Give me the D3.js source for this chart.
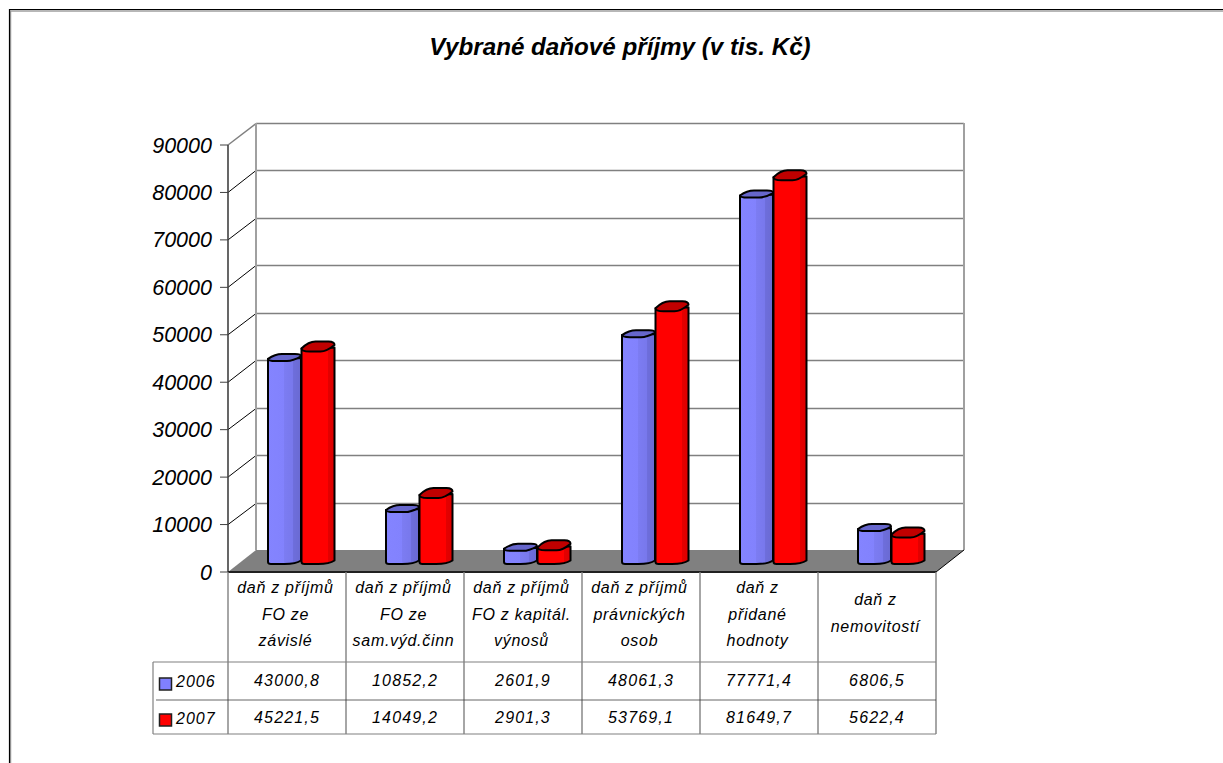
<!DOCTYPE html>
<html><head><meta charset="utf-8">
<script src="https://cdn.jsdelivr.net/npm/d3@7"></script>
<style>html,body{margin:0;padding:0;background:#fff}svg{display:block}
text{font-family:"Liberation Sans",Arial,sans-serif;font-style:italic;fill:#000}</style>
</head><body><svg id="c" width="1223" height="763"></svg>
<script>
const title = "Vybrané daňové příjmy (v tis. Kč)";
const categories = [
 ["daň z příjmů","FO ze","závislé"],
 ["daň z příjmů","FO ze","sam.výd.činn"],
 ["daň z příjmů","FO z kapitál.","výnosů"],
 ["daň z příjmů","právnických","osob"],
 ["daň z","přidané","hodnoty"],
 ["daň z","nemovitostí"]];
const seriesNames = ["2006","2007"];
const values2006 = [43000.8,10852.2,2601.9,48061.3,77771.4,6806.5];
const values2007 = [45221.5,14049.2,2901.3,53769.1,81649.7,5622.4];
const yTicks = d3.range(0,90001,10000);

const svg = d3.select("#c");
const W=1223,H=763;
const x0=228,x1=936,yB=572,yT=145,dx=28,dy=-22;
const y = d3.scaleLinear().domain([0,90000]).range([yB,yT]);
const yBar = d3.scaleLinear().domain([0,90000]).range([561,138]);
const barBase=564;
const x = d3.scaleBand().domain(d3.range(categories.length)).range([x0,x1]);
const GREY="#808080";

const defs=svg.append("defs");
function grad(id,stops){const g=defs.append("linearGradient").attr("id",id);
 stops.forEach(s=>{g.append("stop").attr("offset",s[0]).attr("stop-color",s[1]);});}
grad("gb",[[0,"#8484ff"],[.5,"#8282fd"],[.5,"#7c7cf2"],[.76,"#7878ec"],[.76,"#6e6edc"],[1,"#6a6ad2"]]);
grad("gr",[[0,"#ff0000"],[.8,"#ff0000"],[.8,"#e40000"],[1,"#dc0000"]]);

// outer frame: top and left edges only
svg.append("path").attr("d",`M10.5,${H}V11H${W}`).attr("fill","none").attr("stroke","#a0a0a0").attr("stroke-width",1.5);
svg.append("path").attr("d",`M9.5,${H}V9.5H${W}`).attr("fill","none").attr("stroke","#000").attr("stroke-width",1.2);

svg.append("text").attr("x",620).attr("y",55).attr("text-anchor","middle")
 .attr("font-size",24.2).attr("font-weight","bold").text(title);

const wall=svg.append("g");
wall.append("path").attr("d",`M${x0},${yB}L${x0+dx},${yB+dy}H${x1+dx}L${x1},${yB}Z`).attr("fill","#808080");
yTicks.forEach(t=>{
  const yy=Math.round(y(t)+dy)+.5;
  if(t>0){
    wall.append("line").attr("x1",x0+dx).attr("x2",x1+dx).attr("y1",yy).attr("y2",yy).attr("stroke",GREY).attr("stroke-width",1.6);
    wall.append("line").attr("x1",x0).attr("y1",y(t)).attr("x2",x0+dx).attr("y2",yy)
      .attr("stroke",t===90000?GREY:"#000").attr("stroke-width",t===90000?1.5:1);
  }
});
wall.append("line").attr("x1",x0+dx).attr("x2",x0+dx).attr("y1",y(90000)+dy).attr("y2",yB+dy).attr("stroke","#a0a0a0").attr("stroke-width",2);
wall.append("line").attr("x1",x1+dx).attr("x2",x1+dx).attr("y1",y(90000)+dy).attr("y2",yB+dy).attr("stroke","#a0a0a0").attr("stroke-width",2);
wall.append("line").attr("x1",x1).attr("x2",x1+dx).attr("y1",yB).attr("y2",yB+dy).attr("stroke","#000");

const axis=svg.append("g");
axis.append("line").attr("x1",x0).attr("x2",x0).attr("y1",yT).attr("y2",yB).attr("stroke","#404040").attr("stroke-width",1.6);
yTicks.forEach(t=>{
  axis.append("line").attr("x1",x0-8).attr("x2",x0).attr("y1",y(t)).attr("y2",y(t)).attr("stroke","#404040");
  axis.append("text").attr("x",212).attr("y",y(t)+7.5).attr("text-anchor","end").attr("font-size",21.5).text(t);
});

function bar(g,px,w,v,fill,topFill,tall){
  const base=barBase, top=yBar(v);
  const r=px+w;
  const body=`M${px},${top}V${base-2}Q${px},${base} ${px+3},${base}H${px+w*.5}Q${px+w*.85},${base} ${r},${base-3.5}V${top-1}Z`;
  g.append("path").attr("d",body).attr("fill",fill).attr("stroke","#000").attr("stroke-width",2).attr("stroke-linejoin","round");
  const s=tall?1:.7;
  const lid=`M${px},${top}C${px+4},${top-4*s} ${px+8},${top-7*s} ${px+14},${top-7*s}H${r-6}Q${r},${top-7*s} ${r},${top-3.5*s}Q${r-8},${top+3*s} ${r-14},${top+3*s}H${px+8}Q${px},${top+3*s} ${px},${top}Z`;
  g.append("path").attr("d",lid).attr("fill",topFill).attr("stroke","#000").attr("stroke-width",2).attr("stroke-linejoin","round");
}
const bars=svg.append("g");
categories.forEach((c,i)=>{
  const bx=x(i)+40;
  bar(bars,bx,33,values2006[i],"url(#gb)","#6666cc",false);
  bar(bars,bx+33.5,33,values2007[i],"url(#gr)","#c00000",true);
});

const tb=svg.append("g");
const rowY=[662,700,734], left=153;
tb.append("line").attr("x1",x0).attr("x2",x1).attr("y1",yB).attr("y2",yB).attr("stroke","#202020").attr("stroke-width",2);
x.domain().concat([categories.length]).forEach(i=>{
  const xx=i<categories.length?x(i):x1;
  tb.append("line").attr("x1",xx).attr("x2",xx).attr("y1",yB).attr("y2",rowY[2]).attr("stroke",GREY).attr("stroke-width",1.4);
});
tb.append("line").attr("x1",left).attr("x2",x1).attr("y1",rowY[0]).attr("y2",rowY[0]).attr("stroke",GREY).attr("stroke-width",1.2);
tb.append("line").attr("x1",left+3).attr("x2",x1).attr("y1",rowY[1]).attr("y2",rowY[1]).attr("stroke","#404040").attr("stroke-width",.8);
tb.append("line").attr("x1",left).attr("x2",x1).attr("y1",rowY[2]).attr("y2",rowY[2]).attr("stroke",GREY).attr("stroke-width",1.2);
tb.append("line").attr("x1",left).attr("x2",left).attr("y1",rowY[0]).attr("y2",rowY[2]).attr("stroke",GREY).attr("stroke-width",1.2);

const lineYs={3:[593,620,646],2:[605,632]};
categories.forEach((c,i)=>{
  const cx=x(i)+x.bandwidth()/2-1.5;
  c.forEach((t,j)=>tb.append("text").attr("x",cx).attr("y",lineYs[c.length][j]).attr("text-anchor","middle")
    .attr("font-size",16).attr("letter-spacing",.7).text(t));
});
const fmt=v=>String(v).replace(".",",");
[[values2006,686],[values2007,723]].forEach(([vals,yy])=>{
  vals.forEach((v,i)=>tb.append("text").attr("x",x(i)+x.bandwidth()/2).attr("y",yy).attr("text-anchor","middle")
    .attr("font-size",16).attr("letter-spacing",1.15).text(fmt(v)));
});
[["#8080ff",678,687],["#ff0000",714,724]].forEach(([f,yy,ty],k)=>{
  tb.append("rect").attr("x",159.5).attr("y",yy).attr("width",12).attr("height",12).attr("fill",f).attr("stroke","#202020").attr("stroke-width",1.5);
  tb.append("text").attr("x",176).attr("y",ty).attr("font-size",16).attr("letter-spacing",1).text(seriesNames[k]);
});
</script></body></html>
